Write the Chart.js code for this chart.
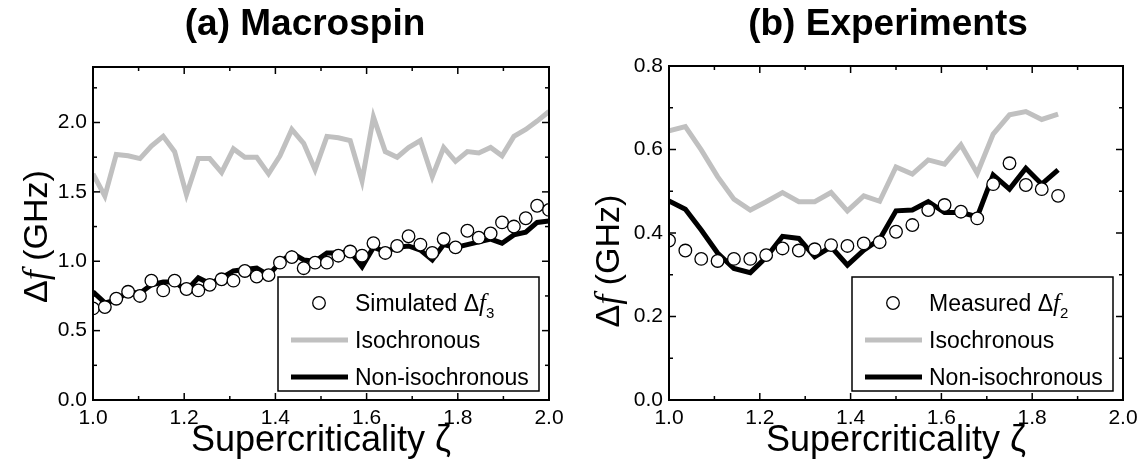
<!DOCTYPE html>
<html>
<head>
<meta charset="utf-8">
<script src="https://cdn.jsdelivr.net/npm/chart.js@4.4.1/dist/chart.umd.min.js"></script>
<style>
html, body { margin: 0; padding: 0; background: #fff; }
#wrap { position: relative; width: 1148px; height: 469px; overflow: hidden; }
canvas { position: absolute; top: 0; }
#c1 { left: 0; }
#c2 { left: 574px; }
</style>
</head>
<body>
<div id="wrap">
  <canvas id="c1" width="574" height="469"></canvas>
  <canvas id="c2" width="574" height="469"></canvas>
</div>
<script>
const FONT = '"Liberation Sans", Arial, sans-serif';
const SERIF = '"Liberation Serif", "Times New Roman", serif';

// ---- (a) Macrospin ----
const simX = [1.000, 1.026, 1.051, 1.077, 1.103, 1.128, 1.154, 1.179, 1.205, 1.231,
              1.256, 1.282, 1.308, 1.333, 1.359, 1.385, 1.410, 1.436, 1.462, 1.487,
              1.513, 1.538, 1.564, 1.590, 1.615, 1.641, 1.667, 1.692, 1.718, 1.744,
              1.769, 1.795, 1.821, 1.846, 1.872, 1.897, 1.923, 1.949, 1.974, 2.000];
const simDf3 = [0.66, 0.67, 0.73, 0.78, 0.75, 0.86, 0.79, 0.86, 0.80, 0.79,
                0.83, 0.87, 0.86, 0.93, 0.89, 0.90, 0.99, 1.03, 0.95, 0.99,
                0.99, 1.04, 1.07, 1.04, 1.13, 1.06, 1.11, 1.18, 1.12, 1.06,
                1.16, 1.10, 1.22, 1.17, 1.20, 1.28, 1.25, 1.31, 1.40, 1.37];
const simIso = [1.63, 1.47, 1.77, 1.76, 1.74, 1.83, 1.90, 1.79, 1.48, 1.74,
                1.74, 1.64, 1.81, 1.75, 1.75, 1.63, 1.76, 1.95, 1.85, 1.66,
                1.90, 1.89, 1.87, 1.58, 2.04, 1.79, 1.75, 1.82, 1.87, 1.61,
                1.82, 1.72, 1.79, 1.78, 1.82, 1.76, 1.90, 1.95, 2.01, 2.08];
const simNonIso = [0.78, 0.70, 0.72, 0.78, 0.77, 0.83, 0.85, 0.85, 0.79, 0.88,
                   0.84, 0.88, 0.93, 0.94, 0.95, 0.90, 0.99, 1.06, 1.01, 1.00,
                   1.06, 1.06, 1.07, 0.96, 1.10, 1.07, 1.10, 1.11, 1.08, 1.01,
                   1.12, 1.10, 1.12, 1.14, 1.16, 1.13, 1.19, 1.21, 1.28, 1.29];

// ---- (b) Experiments ----
const expX = [1.000, 1.036, 1.071, 1.107, 1.143, 1.179, 1.214, 1.250, 1.286, 1.321,
              1.357, 1.393, 1.429, 1.464, 1.500, 1.536, 1.571, 1.607, 1.643, 1.679,
              1.714, 1.750, 1.786, 1.821, 1.857];
const expDf2 = [0.382, 0.358, 0.338, 0.333, 0.338, 0.338, 0.347, 0.363, 0.358, 0.361,
                0.371, 0.369, 0.375, 0.378, 0.403, 0.419, 0.455, 0.467, 0.451, 0.435,
                0.517, 0.567, 0.515, 0.505, 0.489];
const expIso = [0.645, 0.655, 0.599, 0.535, 0.481, 0.455, 0.475, 0.497, 0.475, 0.475,
                0.497, 0.453, 0.489, 0.476, 0.558, 0.541, 0.575, 0.565, 0.611, 0.543,
                0.637, 0.683, 0.691, 0.672, 0.685];
const expNonIso = [0.477, 0.457, 0.407, 0.352, 0.315, 0.305, 0.342, 0.392, 0.387, 0.343,
                   0.367, 0.323, 0.359, 0.385, 0.453, 0.455, 0.475, 0.449, 0.449, 0.439,
                   0.539, 0.505, 0.555, 0.517, 0.551];

// ticks
const xMajor = [1.0, 1.2, 1.4, 1.6, 1.8, 2.0];
const xMinor = [1.1, 1.3, 1.5, 1.7, 1.9];
const aYMajor = [0, 0.5, 1.0, 1.5, 2.0];
const aYMinor = [0.25, 0.75, 1.25, 1.75, 2.25];
const bYMajor = [0, 0.2, 0.4, 0.6, 0.8];
const bYMinor = [0.1, 0.3, 0.5, 0.7];

const GREY = '#c0c0c0';

function pts(xs, ys) { return ys.map((y, i) => ({ x: xs[i], y })); }

function drawRich(ctx, parts, x, y, align) {
  let total = 0;
  parts.forEach(p => { ctx.font = p.font; total += ctx.measureText(p.t).width; });
  let cx = align === 'center' ? x - total / 2 : x;
  ctx.textAlign = 'left';
  ctx.textBaseline = 'alphabetic';
  parts.forEach(p => {
    ctx.font = p.font;
    ctx.fillText(p.t, cx, y + (p.dy || 0));
    cx += ctx.measureText(p.t).width;
  });
}

const framePlugin = {
  id: 'frame',
  afterDraw(chart, args, o) {
    const { ctx, chartArea: a, scales: { x, y } } = chart;
    ctx.save();
    ctx.fillStyle = '#000';
    ctx.strokeStyle = '#000';
    const seg = (x1, y1, x2, y2) => { ctx.beginPath(); ctx.moveTo(x1, y1); ctx.lineTo(x2, y2); ctx.stroke(); };

    // inward ticks on all four sides
    ctx.lineWidth = 1.5;
    const xt = (v, len) => { const p = x.getPixelForValue(v); seg(p, a.bottom, p, a.bottom - len); seg(p, a.top, p, a.top + len); };
    const yt = (v, len) => { const p = y.getPixelForValue(v); seg(a.left, p, a.left + len, p); seg(a.right, p, a.right - len, p); };
    o.xMajor.forEach(v => xt(v, 7));
    o.xMinor.forEach(v => xt(v, 4));
    o.yMajor.forEach(v => yt(v, 7));
    o.yMinor.forEach(v => yt(v, 4));

    ctx.lineWidth = 2;
    ctx.strokeRect(a.left, a.top, a.right - a.left, a.bottom - a.top);

    // legend
    const w = 261, h = 114;
    const bx = a.right - 10 - w, by = a.bottom - 9 - h;
    ctx.fillStyle = '#fff';
    ctx.fillRect(bx, by, w, h);
    ctx.lineWidth = 1.5;
    ctx.strokeRect(bx, by, w, h);
    const rowY = [26, 63, 100];
    o.legend.forEach((r, i) => {
      const ds = chart.data.datasets[r.ds];
      const yy = by + rowY[i];
      if (ds.showLine) {
        ctx.strokeStyle = ds.borderColor;
        ctx.lineWidth = ds.borderWidth;
        seg(bx + 13, yy, bx + 70, yy);
      } else {
        ctx.beginPath();
        ctx.arc(bx + 41, yy, ds.pointRadius, 0, Math.PI * 2);
        ctx.fillStyle = ds.pointBackgroundColor;
        ctx.fill();
        ctx.strokeStyle = ds.pointBorderColor;
        ctx.lineWidth = ds.pointBorderWidth;
        ctx.stroke();
      }
      ctx.fillStyle = '#000';
      drawRich(ctx, r.parts, bx + 77, yy + 8, 'left');
    });

    // y axis title
    ctx.save();
    ctx.translate(o.yTitleX, (a.top + a.bottom) / 2 + o.yTitleDy);
    ctx.rotate(-Math.PI / 2);
    ctx.fillStyle = '#000';
    drawRich(ctx, [
      { t: 'Δ', font: '34px ' + FONT },
      { t: 'f', font: 'italic 36px ' + SERIF },
      { t: ' (GHz)', font: '34px ' + FONT }
    ], 0, 12, 'center');
    ctx.restore();

    // panel title
    ctx.fillStyle = '#000';
    ctx.font = 'bold 37px ' + FONT;
    ctx.textAlign = 'center';
    ctx.textBaseline = 'middle';
    ctx.fillText(o.title, o.titleX, 25);
    ctx.restore();
  }
};

function makeChart(id, simPts, isoPts, nonPts, yMax, yMajor, yMinor, yWidth, padTop, frame) {
  return new Chart(document.getElementById(id), {
    type: 'scatter',
    data: {
      datasets: [
        { data: simPts, showLine: false, pointRadius: 6.3, pointBorderWidth: 1.3,
          pointBackgroundColor: '#fff', pointBorderColor: '#000', pointHoverRadius: 6.3 },
        { data: nonPts, showLine: true, borderColor: '#000', borderWidth: 5, pointRadius: 0, tension: 0 },
        { data: isoPts, showLine: true, borderColor: GREY, borderWidth: 5, pointRadius: 0, tension: 0 }
      ]
    },
    options: {
      responsive: false,
      animation: false,
      events: [],
      layout: { padding: { top: padTop, right: 25, left: 0, bottom: 0 } },
      plugins: { legend: { display: false }, tooltip: { enabled: false }, title: { display: false }, frame },
      scales: {
        x: {
          type: 'linear', min: 1, max: 2,
          afterBuildTicks: s => { s.ticks = xMajor.map(v => ({ value: v })); },
          afterFit: s => { s.height = 69; },
          grid: { display: false, drawTicks: false },
          border: { display: false },
          ticks: { color: '#000', font: { family: FONT, size: 21 }, padding: 6, maxRotation: 0,
                   callback: v => v.toFixed(1) },
          title: { display: true, text: 'Supercriticality ζ', color: '#000',
                   font: { family: FONT, size: 36 }, padding: { top: 0, bottom: 6 } }
        },
        y: {
          type: 'linear', min: 0, max: yMax,
          afterBuildTicks: s => { s.ticks = yMajor.map(v => ({ value: v })); },
          afterFit: s => { s.width = yWidth; },
          grid: { display: false, drawTicks: false },
          border: { display: false },
          ticks: { color: '#000', font: { family: FONT, size: 21 }, padding: 6,
                   callback: v => v.toFixed(1) }
        }
      }
    },
    plugins: [framePlugin]
  });
}

const sub = (s) => ({ t: s, font: '15px ' + FONT, dy: 7 });
const fIt = { t: 'f', font: 'italic 25px ' + SERIF };

makeChart('c1', pts(simX, simDf3), pts(simX, simIso), pts(simX, simNonIso),
  2.4, aYMajor, aYMinor, 93, 67, {
    xMajor, xMinor, yMajor: aYMajor, yMinor: aYMinor,
    title: '(a) Macrospin', titleX: 305, yTitleX: 35, yTitleDy: 3,
    legend: [
      { ds: 0, parts: [{ t: 'Simulated Δ', font: '23px ' + FONT }, fIt, sub('3')] },
      { ds: 2, parts: [{ t: 'Isochronous', font: '23px ' + FONT }] },
      { ds: 1, parts: [{ t: 'Non-isochronous', font: '23px ' + FONT }] }
    ]
  });

makeChart('c2', pts(expX, expDf2), pts(expX, expIso), pts(expX, expNonIso),
  0.8, bYMajor, bYMinor, 95, 66, {
    xMajor, xMinor, yMajor: bYMajor, yMinor: bYMinor,
    title: '(b) Experiments', titleX: 314, yTitleX: 33, yTitleDy: 28,
    legend: [
      { ds: 0, parts: [{ t: 'Measured Δ', font: '23px ' + FONT }, fIt, sub('2')] },
      { ds: 2, parts: [{ t: 'Isochronous', font: '23px ' + FONT }] },
      { ds: 1, parts: [{ t: 'Non-isochronous', font: '23px ' + FONT }] }
    ]
  });
</script>
</body>
</html>
